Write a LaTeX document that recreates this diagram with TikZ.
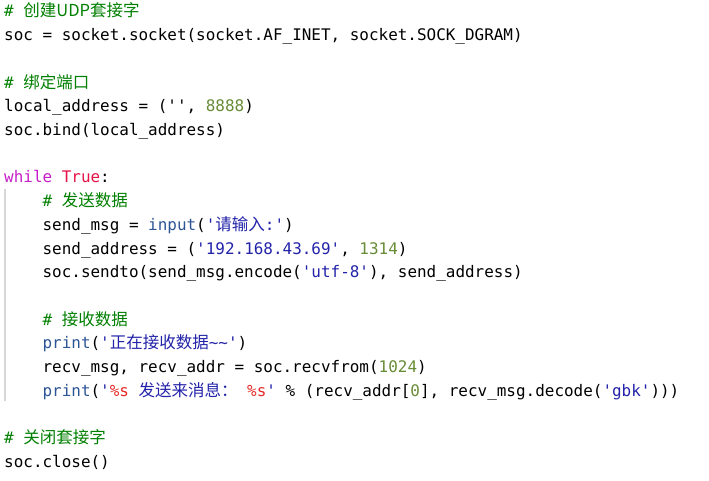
\documentclass[tikz,border=0pt]{standalone}
\usepackage{fontspec}
\setmonofont{DejaVu Sans Mono}
\newfontfamily\cjk{Noto Sans CJK SC}
\definecolor{cmtgreen}{RGB}{0,128,0}
\definecolor{kwpurple}{RGB}{200,30,200}
\definecolor{truered}{RGB}{230,20,70}
\definecolor{strblue}{RGB}{35,35,170}
\definecolor{numgreen}{RGB}{105,140,55}
\definecolor{bifunc}{RGB}{45,85,150}
\definecolor{fmtred}{RGB}{230,40,40}
\definecolor{guidegray}{RGB}{215,215,215}
\newcommand{\zh}[1]{{\cjk\fontsize{16.5}{23.7}\selectfont #1}}
\newcommand{\ccmt}[1]{\textcolor{cmtgreen}{#1}}
\newcommand{\cstr}[1]{\textcolor{strblue}{#1}}
\newcommand{\cnum}[1]{\textcolor{numgreen}{#1}}
\newcommand{\cbi}[1]{\textcolor{bifunc}{#1}}
\newcommand{\cfmt}[1]{\textcolor{fmtred}{#1}}
\tikzset{codeline/.style={anchor=base west,inner sep=0pt,font=\ttfamily\fontsize{15.95}{23.7}\selectfont}}
\begin{document}
\begin{tikzpicture}[x=1pt,y=-1pt]
\useasboundingbox[fill=white](0,0)rectangle(709,481);
%socket
\node[codeline](l1)at(4,17){\ccmt{\# \zh{创建UDP套接字}}};
\node[codeline](l2)at(4,40.7){soc = socket.socket(socket.AF\_INET, socket.SOCK\_DGRAM)};
%bind
\node[codeline](l4)at(4,88.1){\ccmt{\# \zh{绑定端口}}};
\node[codeline](l5)at(4,111.8){local\_address = ('', \cnum{8888})};
\node[codeline](l6)at(4,135.5){soc.bind(local\_address)};
%loop
\node[codeline](l8)at(4,182.9){\textcolor{kwpurple}{while} \textcolor{truered}{True}:};
\node[codeline](l9)at(42.4,206.6){\ccmt{\# \zh{发送数据}}};
\node[codeline](l10)at(42.4,230.3){send\_msg = \cbi{input}(\cstr{'\zh{请输入}:'})};
\node[codeline](l11)at(42.4,254){send\_address = (\cstr{'192.168.43.69'}, \cnum{1314})};
\node[codeline](l12)at(42.4,277.7){soc.sendto(send\_msg.encode(\cstr{'utf-8'}), send\_address)};
\node[codeline](l14)at(42.4,325.1){\ccmt{\# \zh{接收数据}}};
\node[codeline](l15)at(42.4,348.8){\cbi{print}(\cstr{'\zh{正在接收数据}\textasciitilde\textasciitilde'})};
\node[codeline](l16)at(42.4,372.5){recv\_msg, recv\_addr = soc.recvfrom(\cnum{1024})};
\node[codeline](l17)at(42.4,396.2){\cbi{print}(\cstr{'\cfmt{\%s} \zh{发送来消息：} \cfmt{\%s}'} \% (recv\_addr[\cnum{0}], recv\_msg.decode(\cstr{'gbk'})))};
%indent guide
\draw[guidegray,line width=1.5pt](5,189)--(5,401);
%close
\node[codeline](l19)at(4,443.6){\ccmt{\# \zh{关闭套接字}}};
\node[codeline](l20)at(4,467.3){soc.close()};
\end{tikzpicture}
\end{document}
